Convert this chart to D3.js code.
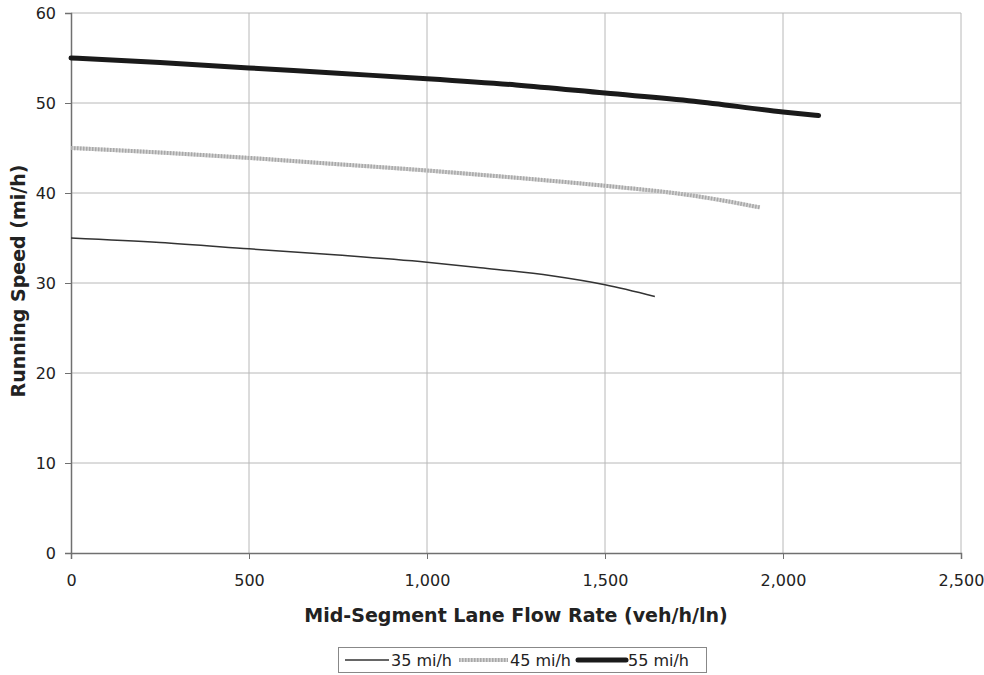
<!DOCTYPE html>
<html><head><meta charset="utf-8">
<script src="https://cdn.jsdelivr.net/npm/d3@7"></script>
<style>body{margin:0;background:#fff}svg{display:block}</style>
</head><body><svg id="c" width="984" height="675"></svg>
<script>
const flow35 = [0, 250, 500, 750, 1000, 1150, 1350, 1500, 1640];
const speed35 = [35, 34.5, 33.8, 33.1, 32.3, 31.7, 30.8, 29.8, 28.5];
const flow45 = [0, 250, 500, 750, 1000, 1250, 1500, 1750, 1935];
const speed45 = [45, 44.5, 43.9, 43.2, 42.5, 41.7, 40.8, 39.7, 38.4];
const flow55 = [0, 250, 500, 750, 1000, 1250, 1500, 1750, 2000, 2100];
const speed55 = [55, 54.5, 53.9, 53.3, 52.7, 52.0, 51.1, 50.2, 49.0, 48.6];
const xTicks = [0, 500, 1000, 1500, 2000, 2500];
const yTicks = [0, 10, 20, 30, 40, 50, 60];
const seriesNames = ["35 mi/h", "45 mi/h", "55 mi/h"];

const svg = d3.select("#c");
const L = 71, R = 961, T = 13, B = 553;
const x = d3.scaleLinear().domain([0, 2500]).range([L, R]);
const y = d3.scaleLinear().domain([0, 60]).range([B, T]);
const font = "'DejaVu Sans', Verdana, sans-serif";

// grid
svg.append("g").selectAll("line").data(xTicks.slice(1)).join("line")
  .attr("x1", d => x(d)).attr("x2", d => x(d)).attr("y1", T).attr("y2", B)
  .attr("stroke", "#b8b8b8").attr("stroke-width", 1);
svg.append("g").selectAll("line").data(yTicks.slice(1)).join("line")
  .attr("x1", L).attr("x2", R).attr("y1", d => y(d)).attr("y2", d => y(d))
  .attr("stroke", "#b8b8b8").attr("stroke-width", 1);

// axes
const xAxis = svg.append("g").attr("transform", `translate(0,${B})`)
  .call(d3.axisBottom(x).tickValues(xTicks).tickSize(6).tickPadding(16).tickFormat(d3.format(",")));
const yAxis = svg.append("g").attr("transform", `translate(${L},0)`)
  .call(d3.axisLeft(y).tickValues(yTicks).tickSize(6).tickPadding(9));
[xAxis, yAxis].forEach(a => {
  a.select(".domain").attr("stroke", "#707070").attr("stroke-width", 1.5);
  a.selectAll(".tick line").attr("stroke", "#707070");
  a.selectAll("text").attr("font-family", font).attr("font-size", 16).attr("fill", "#222");
});
yAxis.selectAll(".tick text").attr("dy", "0.35em");

const line = d3.line().x(d => x(d[0])).y(d => y(d[1])).curve(d3.curveMonotoneX);
const pts = (f, s) => f.map((v, i) => [v, s[i]]);

svg.append("path").attr("d", line(pts(flow35, speed35)))
  .attr("fill", "none").attr("stroke", "#333").attr("stroke-width", 1.5);
svg.append("path").attr("d", line(pts(flow45, speed45)))
  .attr("fill", "none").attr("stroke", "#d4d4d4").attr("stroke-width", 4);
svg.append("path").attr("d", line(pts(flow45, speed45)))
  .attr("fill", "none").attr("stroke", "#a8a8a8").attr("stroke-width", 4).attr("stroke-dasharray", "1.5,1.5");
svg.append("path").attr("d", line(pts(flow55, speed55)))
  .attr("fill", "none").attr("stroke", "#1a1a1a").attr("stroke-width", 5).attr("stroke-linecap", "round");

// titles
svg.append("text").attr("x", 516).attr("y", 622).attr("text-anchor", "middle")
  .attr("font-family", font).attr("font-weight", "bold").attr("font-size", 19).attr("fill", "#222")
  .text("Mid-Segment Lane Flow Rate (veh/h/ln)");
svg.append("text").attr("transform", "translate(25,281) rotate(-90)").attr("text-anchor", "middle")
  .attr("font-family", font).attr("font-weight", "bold").attr("font-size", 19).attr("fill", "#222")
  .text("Running Speed (mi/h)");

// legend
const lg = svg.append("g");
lg.append("rect").attr("x", 338.5).attr("y", 647.5).attr("width", 368).attr("height", 25)
  .attr("fill", "#fff").attr("stroke", "#888");
const items = [
  {x0: 345, x1: 389, tx: 391},
  {x0: 459, x1: 508, tx: 510},
  {x0: 578, x1: 626, tx: 628}
];
const ly = 660;
lg.append("line").attr("x1", items[0].x0).attr("x2", items[0].x1).attr("y1", ly).attr("y2", ly)
  .attr("stroke", "#333").attr("stroke-width", 1.5);
lg.append("line").attr("x1", items[1].x0).attr("x2", items[1].x1).attr("y1", ly).attr("y2", ly)
  .attr("stroke", "#d4d4d4").attr("stroke-width", 4);
lg.append("line").attr("x1", items[1].x0).attr("x2", items[1].x1).attr("y1", ly).attr("y2", ly)
  .attr("stroke", "#a8a8a8").attr("stroke-width", 4).attr("stroke-dasharray", "1.5,1.5");
lg.append("line").attr("x1", items[2].x0).attr("x2", items[2].x1).attr("y1", ly).attr("y2", ly)
  .attr("stroke", "#1a1a1a").attr("stroke-width", 5).attr("stroke-linecap", "round");
lg.selectAll("text.l").data(seriesNames).join("text").attr("class", "l")
  .attr("x", (d, i) => items[i].tx).attr("y", ly).attr("dy", "0.35em")
  .attr("font-family", font).attr("font-size", 16).attr("fill", "#222").text(d => d);
</script></body></html>
